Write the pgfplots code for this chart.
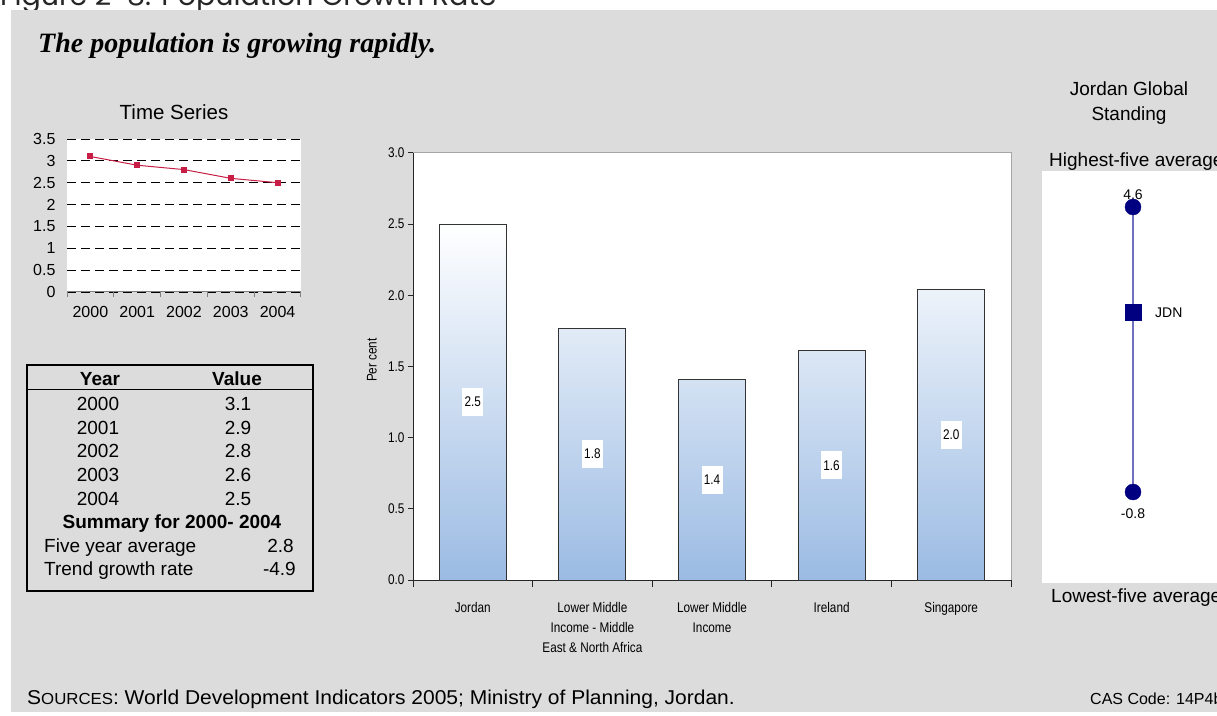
\documentclass[border=0pt]{standalone}
\usepackage{fontspec}
\setmainfont{Liberation Sans}
\newfontfamily\titleserif{Liberation Serif}
\newfontfamily\narrowsans[FakeStretch=0.84]{Liberation Sans}
\newfontfamily\widesans[FakeStretch=1.05]{Liberation Sans}
\newfontfamily\figfont{Poppins}
\usepackage{pgfplots}
\usepackage{pgfplotstable}
\pgfplotsset{compat=1.18}

\definecolor{panelgray}{RGB}{220,220,220}
\definecolor{tsred}{RGB}{200,30,70}
\definecolor{barblue}{RGB}{155,187,227}
\definecolor{navydot}{RGB}{0,0,128}
\definecolor{rangeline}{RGB}{112,112,192}

% Population growth, Jordan, 2000-2004
\pgfplotstableread{
year value
2000 3.1
2001 2.9
2002 2.8
2003 2.6
2004 2.5
}\tsdata

% Comparator growth rates (percent)
\pgfplotstableread{
x v
0 2.50
1 1.77
2 1.41
3 1.61
4 2.04
}\bardata

\begin{document}
\begin{tikzpicture}[x=1pt,y=1pt]
\useasboundingbox (0,0) rectangle (1217,715);
\clip (0,0) rectangle (1217,715);
\fill[white] (0,0) rectangle (1217,715);
\node[anchor=base west, inner sep=0pt, text=black!85] at (0,709)
  {\figfont\fontsize{28.5}{34}\selectfont Figure 2-8: Population Growth Rate};
\fill[panelgray] (11,3) rectangle (1217,705);
\node[anchor=base west, inner sep=0pt] at (38,662)
  {\titleserif\bfseries\itshape\fontsize{28}{32}\selectfont The population is growing rapidly.};

% ---- time series ----
\node[anchor=base, inner sep=0pt, font=\fontsize{20.5}{24}\selectfont] at (174,595) {Time Series};
\begin{axis}[at={(67pt,423pt)}, anchor=south west, scale only axis,
  width=234pt, height=153pt,
  xmin=1999.5, xmax=2004.5, ymin=0, ymax=3.5,
  xtick={2000,...,2004},
  minor xtick={1999.5,2000.5,...,2004.5},
  ytick={0,0.5,...,3.5},
  axis x line*=bottom, axis y line*=left,
  x axis line style={draw=gray, line width=1pt},
  y axis line style={draw=none},
  major x tick style={draw=none},
  minor x tick style={draw=gray, line width=1pt},
  major y tick style={draw=none},
  major tick length=4pt, minor tick length=5pt, tick align=outside,
  ymajorgrids,
  major grid style={black, line width=0.8pt, dash pattern=on 9pt off 5pt},
  axis background/.style={fill=white},
  tick label style={font=\fontsize{16}{18}\selectfont},
  /pgf/number format/assume math mode=true,
  xticklabel style={/pgf/number format/1000 sep={}, yshift=-7pt},
  yticklabel style={xshift=-4pt},
  clip=false]
  \addplot[tsred, line width=1pt, mark=square*, mark size=2.5pt,
    mark options={solid}] table[x=year,y=value]{\tsdata};
\end{axis}

% ---- summary table ----
\draw[black, line width=1.5pt] (27,124) rectangle (313,350);
\draw[black, line width=1pt] (27,325) -- (313,325);
\begin{scope}[every node/.style={inner sep=0pt, font=\fontsize{19}{22}\selectfont}]
\node[anchor=base, font=\bfseries\fontsize{19}{22}\selectfont] at (100,329) {Year};
\node[anchor=base, font=\bfseries\fontsize{19}{22}\selectfont] at (237,329) {Value};
\node[anchor=base] at (98,304) {2000};   \node[anchor=base] at (238,304) {3.1};
\node[anchor=base] at (98,280.5) {2001}; \node[anchor=base] at (238,280.5) {2.9};
\node[anchor=base] at (98,257) {2002};   \node[anchor=base] at (238,257) {2.8};
\node[anchor=base] at (98,233.5) {2003}; \node[anchor=base] at (238,233.5) {2.6};
\node[anchor=base] at (98,210) {2004};   \node[anchor=base] at (238,210) {2.5};
\node[anchor=base, font=\bfseries\fontsize{19}{22}\selectfont] at (172,186.5) {Summary for 2000- 2004};
\node[anchor=base west] at (44,163) {Five year average};
\node[anchor=base east] at (294,163) {2.8};
\node[anchor=base west] at (44,139.5) {Trend growth rate};
\node[anchor=base east] at (296,139.5) {-4.9};
\end{scope}

% ---- comparator bars ----
\begin{axis}[at={(413pt,135pt)}, anchor=south west, scale only axis,
  width=598pt, height=427pt,
  xmin=-0.5, xmax=4.5, ymin=0, ymax=3,
  xtick={0,...,4},
  xticklabels={Jordan, {Lower Middle\\Income - Middle\\East \&  North Africa}, {Lower Middle\\Income}, Ireland, Singapore},
  xticklabel style={align=center, font=\narrowsans\fontsize{14}{20}\selectfont, yshift=-14pt},
  minor xtick={-0.5,0.5,...,4.5},
  ytick={0,0.5,...,3},
  yticklabel style={font=\narrowsans\fontsize{14}{16}\selectfont,
    /pgf/number format/.cd, fixed, fixed zerofill, precision=1},
  /pgf/number format/assume math mode=true,
  axis x line*=bottom, axis y line*=left,
  axis line style={black!85, line width=1pt},
  tick style={black!85, line width=1pt},
  major x tick style={draw=none},
  major tick length=5pt, minor tick length=7pt, tick align=outside,
  axis background/.style={fill=white},
  ylabel={Per cent},
  ylabel style={font=\narrowsans\fontsize{14}{16}\selectfont,
    at={(axis description cs:-0.0686,0.515)}, anchor=center},
  after end axis/.code={\draw[gray!70, line width=1pt]
    (rel axis cs:0,1) -- (rel axis cs:1,1) -- (rel axis cs:1,0);},
  clip=false]
  \addplot[ybar, bar width=67pt, draw=black!80, line width=1pt,
    top color=white, bottom color=barblue] table[x=x,y=v]{\bardata};
  \addplot[draw=none, mark=none, point meta=explicit,
    nodes near coords={\pgfmathprintnumber[fixed,fixed zerofill,precision=1,assume math mode=true]{\pgfplotspointmeta}},
    every node near coord/.style={anchor=center, fill=white, inner sep=0pt,
      minimum width=21pt, minimum height=28pt,
      font=\narrowsans\fontsize{14}{16}\selectfont}]
    table[x=x, y expr=\thisrow{v}/2, meta=v]{\bardata};
\end{axis}

% ---- global standing ----
\node[align=center, font=\fontsize{19}{25}\selectfont] at (1129,612) {Jordan Global\\Standing};
\node[anchor=west, inner sep=0pt, font=\fontsize{19}{22}\selectfont] at (1049,553) {Highest-five average};
\fill[white] (1042,132) rectangle (1217,544);
\node[anchor=west, inner sep=0pt, font=\fontsize{19}{22}\selectfont] at (1051,117) {Lowest-five average};
\begin{axis}[at={(1100pt,223pt)}, anchor=south west, scale only axis,
  width=66pt, height=285pt, xmin=-1, xmax=1, ymin=-0.8, ymax=4.6,
  hide axis, clip=false]
  \addplot[rangeline, line width=1.5pt] coordinates {(0,-0.8) (0,4.6)};
  \addplot[only marks, mark=*, mark size=8pt, navydot, point meta=y,
    nodes near coords={\pgfmathprintnumber[fixed,fixed zerofill,precision=1,assume math mode=true]{\pgfplotspointmeta}},
    every node near coord/.style={anchor=south, yshift=7pt, inner sep=0pt, text=black,
      font=\fontsize{14}{16}\selectfont}]
    coordinates {(0,4.6)};
  \addplot[only marks, mark=*, mark size=8pt, navydot, point meta=y,
    nodes near coords={\pgfmathprintnumber[fixed,fixed zerofill,precision=1,assume math mode=true]{\pgfplotspointmeta}},
    every node near coord/.style={anchor=north, yshift=-17pt, inner sep=0pt, text=black,
      font=\fontsize{14}{16}\selectfont}]
    coordinates {(0,-0.8)};
  \addplot[only marks, mark=square*, mark size=8pt, navydot, point meta=y,
    nodes near coords={JDN},
    every node near coord/.style={anchor=west, xshift=22pt, inner sep=0pt, text=black,
      font=\fontsize{14}{16}\selectfont}]
    coordinates {(0,2.6)};
\end{axis}

% ---- footer ----
\node[anchor=base west, inner sep=0pt, font=\widesans\fontsize{20}{22}\selectfont] at (27,11)
  {S{\fontsize{16}{18}\selectfont OURCES}: World Development Indicators 2005; Ministry of Planning, Jordan.};
\node[anchor=base west, inner sep=0pt, font=\fontsize{16}{18}\selectfont] at (1090,11) {CAS Code: 14P4b};
\end{tikzpicture}
\end{document}
